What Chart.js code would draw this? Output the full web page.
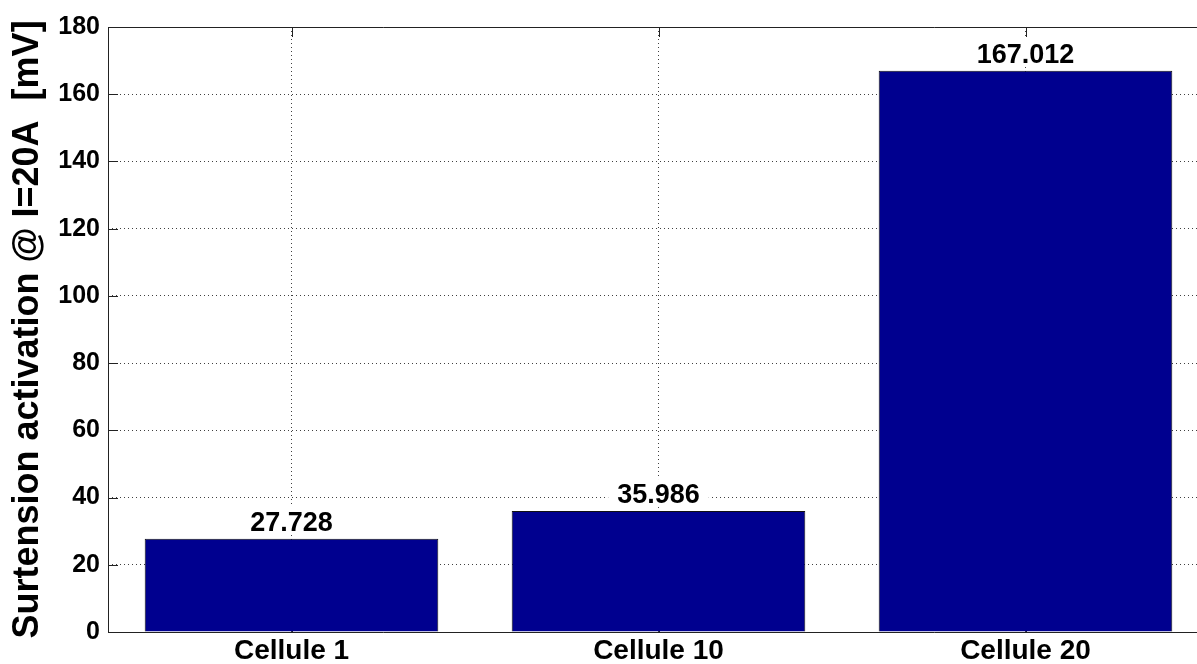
<!DOCTYPE html>
<html>
<head>
<meta charset="utf-8">
<script src="https://cdn.jsdelivr.net/npm/chart.js@4"></script>
<style>
  html, body { margin: 0; padding: 0; background: #fff; overflow: hidden; }
  #wrap { width: 1197px; height: 664px; overflow: hidden; }
</style>
</head>
<body>
<div id="wrap"><canvas id="myChart" width="1232" height="664"></canvas></div>
<script>
const categories = ["Cellule 1", "Cellule 10", "Cellule 20"];
const values = [27.728, 35.986, 167.012];
const valueLabels = ["27.728", "35.986", "167.012"];
const yTicks = [0, 20, 40, 60, 80, 100, 120, 140, 160, 180];
const yTitle = "Surtension activation @ I=20A  [mV]";

const FONT = "'Liberation Sans', Arial, sans-serif";

// matlab style: box, inward ticks, value labels on white
const matlabLook = {
  id: "matlabLook",
  beforeDatasetsDraw(chart) {
    const ctx = chart.ctx;
    const a = chart.chartArea;
    const x = chart.scales.x;
    const y = chart.scales.y;
    ctx.save();
    ctx.strokeStyle = "#222";
    ctx.lineWidth = 1;
    ctx.beginPath();
    yTicks.forEach(v => {
      const py = Math.round(y.getPixelForValue(v)) + 0.5;
      ctx.moveTo(a.left, py);
      ctx.lineTo(a.left + 10, py);
      ctx.moveTo(a.right, py);
      ctx.lineTo(a.right - 10, py);
    });
    categories.forEach((c, i) => {
      const px = Math.round(x.getPixelForValue(i)) + 0.5;
      ctx.moveTo(px, a.bottom);
      ctx.lineTo(px, a.bottom - 10);
      ctx.moveTo(px, a.top);
      ctx.lineTo(px, a.top + 10);
    });
    ctx.stroke();
    ctx.restore();
  },
  afterDatasetsDraw(chart) {
    const ctx = chart.ctx;
    const a = chart.chartArea;
    const meta = chart.getDatasetMeta(0);
    ctx.save();
    ctx.font = "bold 27px " + FONT;
    ctx.textAlign = "center";
    ctx.textBaseline = "alphabetic";
    meta.data.forEach((bar, i) => {
      const t = valueLabels[i];
      const w = ctx.measureText(t).width;
      const base = bar.y - 8;
      ctx.fillStyle = "#fff";
      ctx.fillRect(bar.x - w / 2 - 9, base - 24, w + 18, 28);
      ctx.fillStyle = "#000";
      ctx.fillText(t, bar.x, base);
    });
    // box
    ctx.strokeStyle = "#222";
    ctx.lineWidth = 1;
    ctx.beginPath();
    const l = Math.round(a.left) + 0.5, r = Math.round(a.right) + 0.5;
    const tp = Math.round(a.top) + 0.5, b = Math.round(a.bottom) + 0.5;
    ctx.moveTo(l, tp); ctx.lineTo(r, tp); ctx.lineTo(r, b); ctx.lineTo(l, b); ctx.closePath();
    ctx.stroke();
    ctx.restore();
  }
};

const ctx = document.getElementById("myChart");
const chart = new Chart(ctx, {
  type: "bar",
  data: {
    labels: categories,
    datasets: [{
      data: values,
      backgroundColor: "#00008F",
      borderColor: "#111",
      borderWidth: 1,
      categoryPercentage: 1,
      barPercentage: 0.8
    }]
  },
  options: {
    responsive: false,
    animation: false,
    layout: { padding: { top: 27, right: 23, left: 0, bottom: 0 } },
    plugins: {
      legend: { display: false },
      tooltip: { enabled: false }
    },
    scales: {
      x: {
        offset: true,
        grid: {
          offset: false,
          drawTicks: false,
          color: "rgba(0,0,0,0.75)"
        },
        border: { display: false, dash: [1, 3] },
        ticks: {
          color: "#000",
          font: { family: FONT, size: 28, weight: "bold" },
          padding: 2
        },
        afterFit(s) { s.height = 32; }
      },
      y: {
        min: 0,
        max: 180,
        afterBuildTicks(s) { s.ticks = yTicks.map(v => ({ value: v })); },
        grid: {
          drawTicks: false,
          color: "rgba(0,0,0,0.75)"
        },
        border: { display: false, dash: [1, 3] },
        ticks: {
          color: "#000",
          font: { family: FONT, size: 25, weight: "bold" },
          padding: 8
        },
        title: {
          display: true,
          text: yTitle,
          color: "#000",
          font: { family: FONT, size: 36, weight: "bold" },
          padding: { top: 6, bottom: 0 }
        },
        afterFit(s) { s.width = 108; }
      }
    }
  },
  plugins: [matlabLook]
});
</script>
</body>
</html>
